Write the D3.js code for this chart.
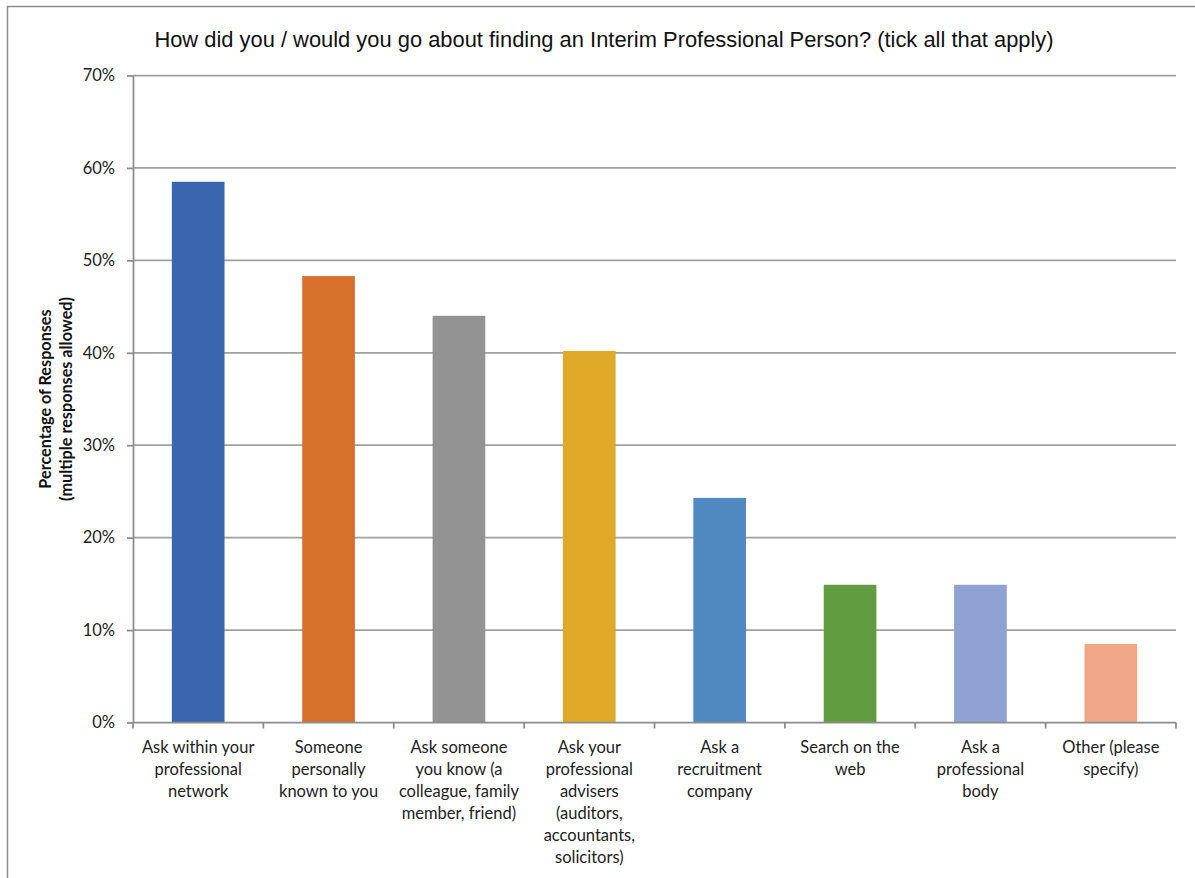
<!DOCTYPE html>
<html>
<head>
<meta charset="utf-8">
<script src="https://cdnjs.cloudflare.com/ajax/libs/d3/7.8.5/d3.min.js"></script>
<style>
  html, body { margin: 0; padding: 0; background: #fff; }
  svg { display: block; }
</style>
</head>
<body>
<svg id="chart" width="1195" height="878"></svg>
<script>
// Survey answers: how respondents find an interim professional
const categories = [
  ["Ask within your", "professional", "network"],
  ["Someone", "personally", "known to you"],
  ["Ask someone", "you know (a", "colleague, family", "member, friend)"],
  ["Ask your", "professional", "advisers", "(auditors,", "accountants,", "solicitors)"],
  ["Ask a", "recruitment", "company"],
  ["Search on the", "web"],
  ["Ask a", "professional", "body"],
  ["Other (please", "specify)"]
];
const values = [58.5, 48.3, 44.0, 40.2, 24.3, 14.9, 14.9, 8.5];
const barColors = ["#3A66AF", "#D6702B", "#939393", "#E0AA28", "#4F89BF", "#619C40", "#8FA2D2", "#F0A787"];
const yTicks = [0, 10, 20, 30, 40, 50, 60, 70];
const titleText = "How did you / would you go about finding an Interim Professional Person? (tick all that apply)";
const yTitleLines = ["Percentage of Responses", "(multiple responses allowed)"];

const svg = d3.select("#chart");
const labelFont = "Lato, 'Open Sans', sans-serif";

// Outer frame
svg.append("rect")
  .attr("x", 7.5).attr("y", 6.5)
  .attr("width", 1200).attr("height", 900)
  .attr("fill", "none").attr("stroke", "#8c8c8c").attr("stroke-width", 1.5);

const plot = { left: 133, right: 1176, top: 75.5, bottom: 722.5 };

const x = d3.scaleBand()
  .domain(d3.range(categories.length))
  .range([plot.left, plot.right])
  .padding(0);

const y = d3.scaleLinear()
  .domain([0, 70])
  .range([plot.bottom, plot.top]);

// Gridlines
svg.append("g")
  .selectAll("line")
  .data(yTicks.filter(d => d > 0))
  .join("line")
  .attr("x1", plot.left).attr("x2", plot.right)
  .attr("y1", d => y(d)).attr("y2", d => y(d))
  .attr("stroke", "#a0a0a0").attr("stroke-width", 1.75);

// Bars
const barW = x.bandwidth() * 0.404;
svg.append("g")
  .selectAll("rect")
  .data(values)
  .join("rect")
  .attr("x", (d, i) => x(i) + (x.bandwidth() - barW) / 2)
  .attr("y", d => y(d))
  .attr("width", barW)
  .attr("height", d => y(0) - y(d))
  .attr("fill", (d, i) => barColors[i]);

// Y axis
const yAxis = svg.append("g")
  .attr("transform", `translate(${plot.left},0)`)
  .call(d3.axisLeft(y).tickValues(yTicks).tickFormat(d => d + "%").tickSize(6).tickSizeOuter(0).tickPadding(12));
yAxis.select(".domain").attr("stroke", "#8c8c8c").attr("stroke-width", 1.75);
yAxis.selectAll(".tick line").attr("stroke", "#8c8c8c").attr("stroke-width", 1.75);
yAxis.selectAll(".tick text")
  .attr("font-family", labelFont).attr("font-size", 16.5).attr("fill", "#222");

// X axis: ticks at category boundaries
const boundaries = d3.range(categories.length + 1).map(i => plot.left + i * x.step());
const xg = svg.append("g");
xg.append("line")
  .attr("x1", plot.left).attr("x2", plot.right)
  .attr("y1", plot.bottom).attr("y2", plot.bottom)
  .attr("stroke", "#8c8c8c").attr("stroke-width", 1.75);
xg.selectAll("line.tk")
  .data(boundaries)
  .join("line").attr("class", "tk")
  .attr("x1", d => d).attr("x2", d => d)
  .attr("y1", plot.bottom).attr("y2", plot.bottom + 6)
  .attr("stroke", "#8c8c8c").attr("stroke-width", 1.75);

// Category labels (wrapped)
xg.selectAll("text.cat")
  .data(categories)
  .join("text").attr("class", "cat")
  .attr("text-anchor", "middle")
  .attr("font-family", labelFont).attr("font-size", 16.5).attr("fill", "#222")
  .each(function(lines, i) {
    d3.select(this).selectAll("tspan")
      .data(lines)
      .join("tspan")
      .attr("x", x(i) + x.bandwidth() / 2)
      .attr("y", (d, j) => 753 + j * 22)
      .text(d => d);
  });

// Title
svg.append("text")
  .attr("x", 604).attr("y", 47)
  .attr("text-anchor", "middle")
  .attr("font-family", "'Liberation Sans', Arial, sans-serif")
  .attr("font-size", 21.9).attr("fill", "#111")
  .text(titleText);

// Y axis title
svg.append("g")
  .attr("transform", "translate(51,399) rotate(-90)")
  .selectAll("text")
  .data(yTitleLines)
  .join("text")
  .attr("x", 0).attr("y", (d, i) => i * 21)
  .attr("text-anchor", "middle")
  .attr("font-family", labelFont).attr("font-weight", "bold")
  .attr("font-size", 16.2).attr("fill", "#111")
  .text(d => d);
</script>
</body>
</html>
